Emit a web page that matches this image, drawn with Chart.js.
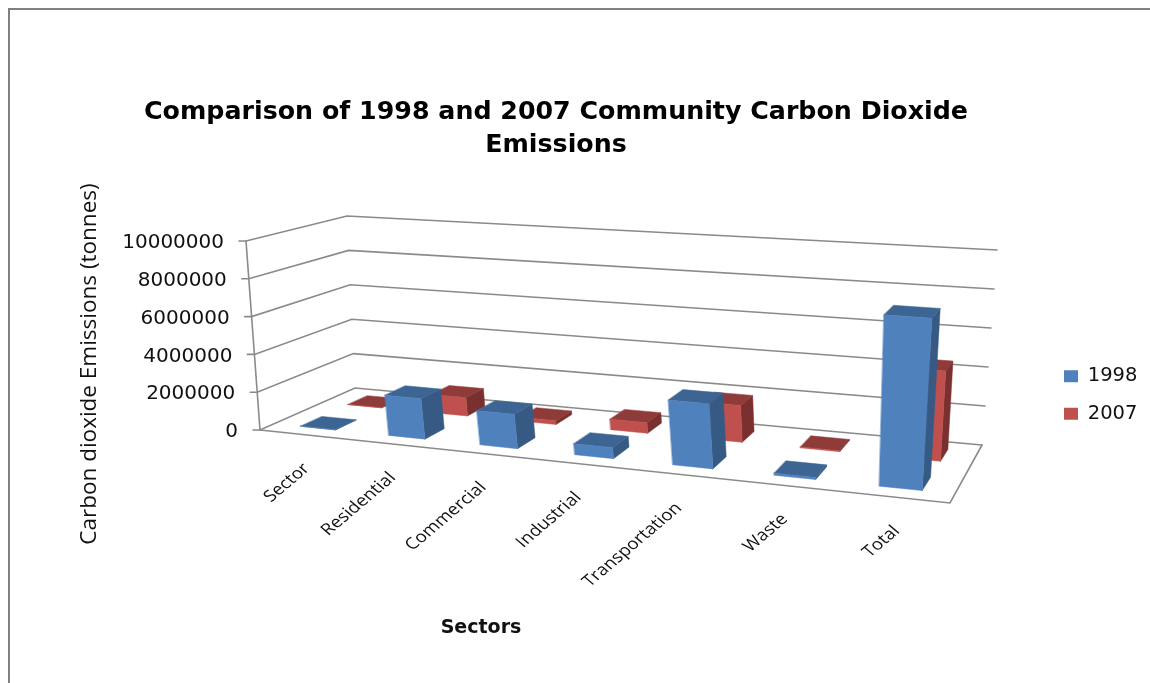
<!DOCTYPE html>
<html>
<head>
<meta charset="utf-8">
<style>html,body{margin:0;padding:0;background:#fff}canvas{display:block}</style>
<script src="https://cdn.jsdelivr.net/npm/chart.js@4"></script>
</head>
<body>
<canvas id="chart" width="1150" height="683"></canvas>
<script>
// Chart values
const categories = ['Sector', 'Residential', 'Commercial', 'Industrial', 'Transportation', 'Waste', 'Total'];
const values1998 = [0, 2100000, 1750000, 550000, 3200000, 100000, 8200000];
const values2007 = [0, 1000000, 200000, 550000, 1900000, 50000, 4500000];
const seriesNames = ['1998', '2007'];
const titleLines = ['Comparison of 1998 and 2007 Community Carbon Dioxide', 'Emissions'];
const yAxisTitle = 'Carbon dioxide Emissions (tonnes)';
const xAxisTitle = 'Sectors';

// Face colours for each series: front, top, side
const blueFaces = ['#4f81bd', '#3d6594', '#365a84'];
const redFaces = ['#c0504d', '#8f3b39', '#7a302e'];
const gridColor = '#8a8a8a';
const textColor = '#111111';
const faceSets = [blueFaces, redFaces];

// Corners of the floor and of the ceiling of the 3D box: left-front, right-front, right-back, left-back
const floorQuad = [[260, 430], [950, 503], [982, 445], [355, 388]];
const ceilQuad = [[246, 241], [967, 289], [997, 250], [347, 216]];
const depthCentres = [0.25, 0.75];
const depthHalf = 0.11;
const lensBend = 0.06;

// Unit-square to quadrilateral homography
function quadMap(q) {
  const [p0, p1, p2, p3] = q;
  const dx1 = p1[0] - p2[0], dy1 = p1[1] - p2[1];
  const dx2 = p3[0] - p2[0], dy2 = p3[1] - p2[1];
  const sx = p0[0] - p1[0] + p2[0] - p3[0], sy = p0[1] - p1[1] + p2[1] - p3[1];
  const den = dx1 * dy2 - dx2 * dy1;
  const g = (sx * dy2 - dx2 * sy) / den, h = (dx1 * sy - sx * dy1) / den;
  const a = p1[0] - p0[0] + g * p1[0], b = p3[0] - p0[0] + h * p3[0];
  const d = p1[1] - p0[1] + g * p1[1], e = p3[1] - p0[1] + h * p3[1];
  return (u, w) => {
    const k = g * u + h * w + 1;
    return [(a * u + b * w + p0[0]) / k, (d * u + e * w + p0[1]) / k];
  };
}
const floorAt = quadMap(floorQuad);
const ceilAt = quadMap(ceilQuad);

// u: along the categories, v: up the value axis, w: into the depth (all 0..1)
function project(u, v, w) {
  const bent = u + lensBend * u * (1 - u);
  const f = floorAt(bent, w), c = ceilAt(bent, w);
  return [f[0] + (c[0] - f[0]) * v, f[1] + (c[1] - f[1]) * v];
}

function polygon(ctx, pts, fill) {
  ctx.beginPath();
  pts.forEach((p, i) => i ? ctx.lineTo(p[0], p[1]) : ctx.moveTo(p[0], p[1]));
  ctx.closePath();
  ctx.fillStyle = fill;
  ctx.strokeStyle = fill;
  ctx.lineWidth = 0.5;
  ctx.fill();
  ctx.stroke();
}

function polyline(ctx, pts) {
  ctx.beginPath();
  pts.forEach((p, i) => i ? ctx.lineTo(p[0], p[1]) : ctx.moveTo(p[0], p[1]));
  ctx.stroke();
}

const box3d = {
  id: 'box3d',
  afterLayout(chart) {
    // Title is centred over the plot, legend sits in the right margin
    const tb = chart.titleBlock;
    tb.left = 0;
    tb.right = 1112;
    const lg = chart.legend;
    lg.left = 1046;
    lg.right = 1150;
    lg.top = 244;
    lg.bottom = 546;
  },
  beforeDraw(chart) {
    const ctx = chart.ctx;
    ctx.save();
    ctx.strokeStyle = '#808080';
    ctx.lineWidth = 2;
    polyline(ctx, [[9, 683], [9, 9], [1150, 9]]);
    ctx.restore();
  },
  beforeDatasetsDraw(chart) {
    const ctx = chart.ctx;
    const area = chart.chartArea;
    const yScale = chart.scales.y;
    const xScale = chart.scales.x;
    const toU = px => (px - area.left) / (area.right - area.left);
    const toV = px => (area.bottom - px) / (area.bottom - area.top);

    ctx.save();
    ctx.lineCap = 'round';
    ctx.strokeStyle = gridColor;
    ctx.lineWidth = 1.6;

    // Walls: one gridline per value tick, with a short tick mark at the front
    yScale.ticks.forEach(t => {
      const v = toV(yScale.getPixelForValue(t.value));
      const a = project(0, v, 0);
      polyline(ctx, [[a[0] - 7, a[1]], a, project(0, v, 1), project(1, v, 1)]);
    });
    polyline(ctx, [project(0, 0, 0), project(0, 1, 0)]);

    // Floor outline
    polyline(ctx, [project(0, 0, 0), project(1, 0, 0), project(1, 0, 1)]);

    // Columns, rear series first, right to left
    for (let ds = chart.data.datasets.length - 1; ds >= 0; ds--) {
      const meta = chart.getDatasetMeta(ds);
      const [front, top, side] = faceSets[ds];
      const w0 = depthCentres[ds] - depthHalf, w1 = depthCentres[ds] + depthHalf;
      for (let i = meta.data.length - 1; i >= 0; i--) {
        const el = meta.data[i];
        const u0 = toU(el.x - el.width / 2), u1 = toU(el.x + el.width / 2);
        const v = toV(el.y);
        polygon(ctx, [project(u1, 0, w0), project(u1, 0, w1), project(u1, v, w1), project(u1, v, w0)], side);
        polygon(ctx, [project(u0, v, w0), project(u1, v, w0), project(u1, v, w1), project(u0, v, w1)], top);
        polygon(ctx, [project(u0, 0, w0), project(u1, 0, w0), project(u1, v, w0), project(u0, v, w0)], front);
      }
    }

    // Value labels beside the front edge
    ctx.fillStyle = textColor;
    ctx.font = '20px "DejaVu Sans"';
    ctx.textAlign = 'right';
    ctx.textBaseline = 'middle';
    yScale.ticks.forEach(t => {
      const p = project(0, toV(yScale.getPixelForValue(t.value)), 0);
      ctx.fillText(t.label, p[0] - 22, p[1] + 2);
    });

    // Category labels, slanted below the front edge
    ctx.font = '16px "Open Sans"';
    xScale.ticks.forEach((t, i) => {
      const p = floorAt(toU(xScale.getPixelForTick(i)), 0);
      ctx.save();
      ctx.translate(p[0] + 9, p[1] + 35);
      ctx.scale(1.18, 1);
      ctx.rotate(-Math.PI / 4);
      ctx.textBaseline = 'alphabetic';
      ctx.fillText(categories[t.value], 0, 0);
      ctx.restore();
    });

    // Axis titles
    ctx.save();
    ctx.translate(90, 364);
    ctx.rotate(-Math.PI / 2);
    ctx.textAlign = 'center';
    ctx.font = '22.5px "Open Sans"';
    ctx.fillText(yScale.options.title.text, 0, 0);
    ctx.restore();

    ctx.textAlign = 'center';
    ctx.font = 'bold 19px "DejaVu Sans"';
    ctx.fillText(xScale.options.title.text, 481, 628);

    ctx.restore();
    return false;
  }
};

new Chart(document.getElementById('chart'), {
  type: 'bar',
  plugins: [box3d],
  data: {
    labels: categories,
    datasets: [
      { label: seriesNames[0], data: values1998, backgroundColor: blueFaces[0], grouped: false },
      { label: seriesNames[1], data: values2007, backgroundColor: redFaces[0], grouped: false }
    ]
  },
  options: {
    responsive: false,
    animation: false,
    barPercentage: 0.4,
    categoryPercentage: 1,
    layout: { padding: { left: 260, right: 120, top: 0, bottom: 253 } },
    plugins: {
      tooltip: { enabled: false },
      title: {
        display: true,
        text: titleLines,
        color: '#000',
        font: { family: 'DejaVu Sans', size: 25.3, weight: 'bold', lineHeight: 1.34 },
        padding: { top: 95, bottom: 75 }
      },
      legend: {
        position: 'right',
        labels: { boxWidth: 14, boxHeight: 12, padding: 18, color: textColor, font: { family: 'DejaVu Sans', size: 19.5 } }
      }
    },
    scales: {
      x: { display: false, title: { text: xAxisTitle } },
      y: {
        display: false,
        min: 0,
        max: 10000000,
        ticks: { stepSize: 2000000, callback: value => String(value) },
        title: { text: yAxisTitle }
      }
    }
  }
});
</script>
</body>
</html>
